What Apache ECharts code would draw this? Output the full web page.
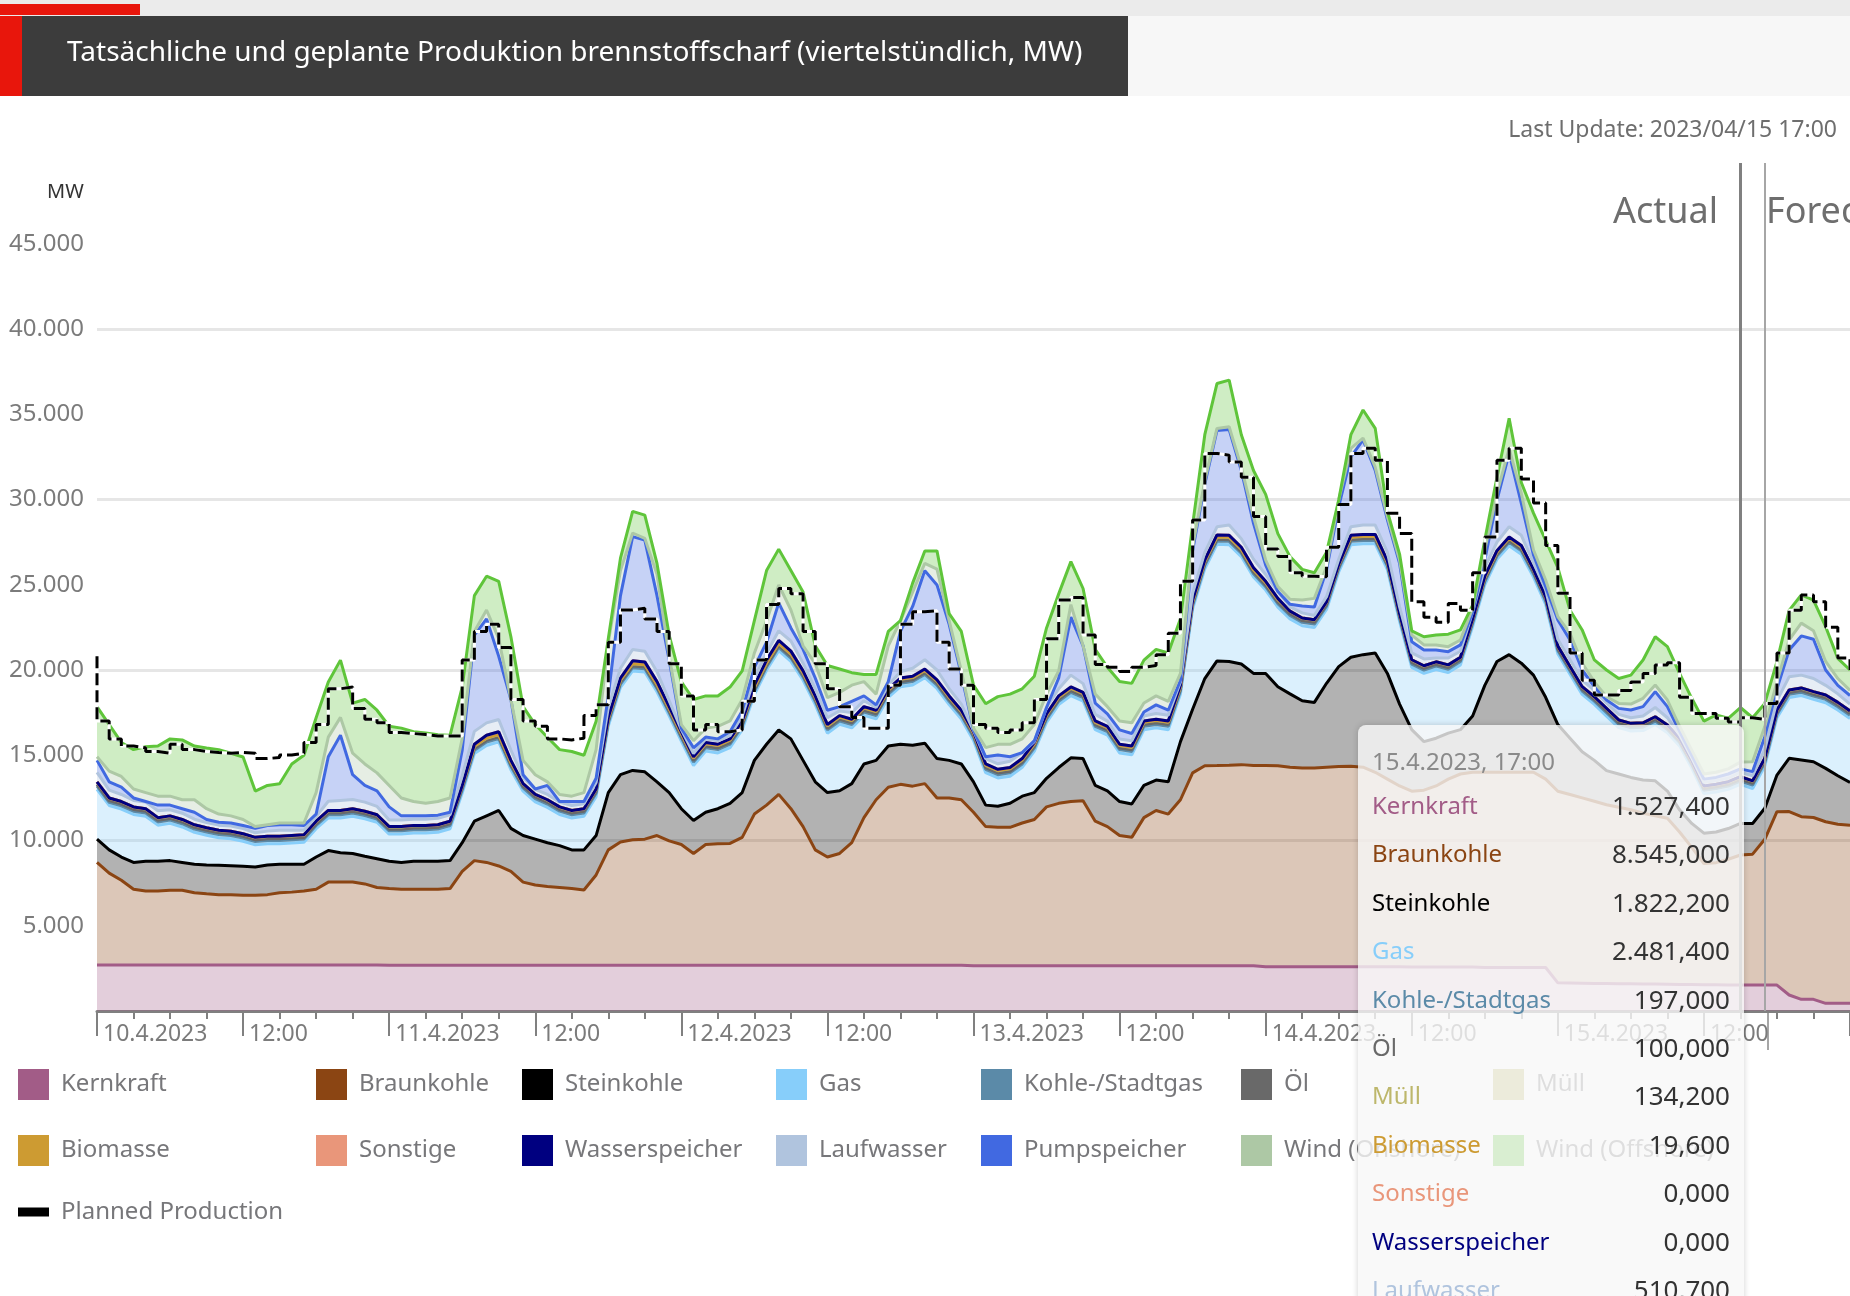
<!DOCTYPE html>
<html>
<head>
<meta charset="utf-8">
<title>Produktion brennstoffscharf</title>
<script src="https://cdn.jsdelivr.net/npm/echarts@6/dist/echarts.min.js"></script>
<style>
  html, body { margin: 0; padding: 0; background: #fff; overflow: hidden; }
  #main { width: 1850px; height: 1296px; }
</style>
</head>
<body>
<div id="main"></div>
<script>
const FONT = '"Noto Sans", sans-serif'

// hourly readings, index = hours since 10.4.2023 00:00. "Top" arrays are the stacked level of the line in the picture
const kernkraft = [
  2700,2700,2700,2700,2700,2700,2700,2700,2700,2700,2700,2700,2700,2700,2700,2700,2700,2700,2700,2700,2700,2700,2700,2700,
  2690,2690,2690,2690,2690,2690,2690,2690,2690,2690,2690,2690,2690,2690,2690,2690,2690,2690,2690,2690,2690,2690,2690,2690,
  2680,2680,2680,2680,2680,2680,2680,2680,2680,2680,2680,2680,2680,2680,2680,2680,2680,2680,2680,2680,2680,2680,2680,2680,
  2650,2650,2650,2650,2650,2650,2650,2650,2650,2650,2650,2650,2650,2650,2650,2650,2650,2650,2650,2650,2650,2650,2650,2650,
  2600,2600,2600,2600,2600,2600,2600,2600,2600,2600,2600,2600,2580,2580,2580,2580,2580,2580,2550,2550,2550,2550,2550,2550,
  1650,1640,1630,1620,1610,1600,1600,1590,1580,1570,1560,1550,1540,1540,1530,1530,1530,1527,1520,940,684,684,450,450,450]
const braunkohleTop = [
  8715,8085,7665,7140,7035,7035,7077,7077,6930,6870,6825,6825,6783,6783,6825,6930,6972,7035,7140,7560,7560,7560,7455,7245,
  7182,7140,7140,7140,7140,7180,8190,8820,8715,8505,8190,7560,7392,7308,7245,7182,7098,7980,9450,9912,10038,10080,10290,9975,
  9765,9240,9765,9807,9828,10185,11550,12075,12705,11865,10815,9450,9030,9240,9870,11340,12390,13125,13293,13188,13335,12495,12495,12390,
  11655,10815,10773,10773,11025,11235,11970,12180,12285,12327,11130,10815,10290,10185,11340,11760,11550,12390,13965,14385,14400,14420,14450,14400,
  14400,14380,14300,14250,14250,14300,14340,14350,14300,14000,13600,13200,12890,12950,13200,13600,13900,14000,14000,14000,14000,14000,14000,13600,
  12890,12700,12500,12300,12100,11950,11800,11600,11450,11300,10500,9600,8650,8700,8900,9150,9200,10072,11690,11700,11400,11350,11100,10950,10900]
const steinkohleTop = [
  10080,9450,9030,8715,8778,8778,8820,8715,8610,8568,8547,8526,8484,8442,8568,8610,8610,8610,9030,9408,9282,9240,9072,8925,
  8778,8715,8778,8778,8778,8820,9870,11130,11445,11760,10710,10290,10080,9870,9700,9450,9450,10290,12810,13860,14112,14028,13440,12810,
  11865,11172,11655,11865,12180,12810,14700,15645,16485,15960,14700,13440,12810,12915,13335,14490,14700,15540,15645,15582,15708,14805,14700,14490,
  13440,12075,12012,12180,12600,12810,13650,14280,14847,14805,13230,12915,12285,12138,13230,13545,13440,15800,17700,19500,20530,20500,20350,19800,
  19800,19020,18600,18200,18100,19220,20200,20750,20900,21000,19800,18000,16500,15800,16000,16300,16500,17300,19100,20500,20900,20400,19700,18400,
  16800,16000,15200,14700,14100,13900,13700,13550,13500,12900,11800,11000,10430,10500,10700,11000,11000,11894,13840,14820,14720,14620,14230,13800,13400]
const kohlegas = [
  190,190,190,190,190,190,190,190,190,190,190,190,190,190,190,190,190,190,190,190,190,190,190,190,
  190,190,190,190,190,190,195,195,195,195,195,195,195,195,195,195,195,195,195,195,195,195,195,195,
  195,195,195,195,195,195,195,195,195,195,195,195,195,195,195,195,195,195,195,195,195,195,195,195,
  195,195,195,195,195,195,195,195,195,195,195,195,195,195,195,195,195,195,195,195,195,195,195,195,
  197,197,197,197,197,197,197,197,197,197,197,197,197,197,197,197,197,197,197,197,197,197,197,197,
  197,197,197,197,197,197,197,197,197,197,197,197,197,197,197,197,197,197,197,197,197,197,197,197,197]
const oel = [
  100,100,100,100,100,100,100,100,100,100,100,100,100,100,100,100,100,100,100,100,100,100,100,100,
  100,100,100,100,100,100,100,100,100,100,100,100,100,100,100,100,100,100,100,100,100,100,100,100,
  100,100,100,100,100,100,100,100,100,100,100,100,100,100,100,100,100,100,100,100,100,100,100,100,
  100,100,100,100,100,100,100,100,100,100,100,100,100,100,100,100,100,100,100,100,100,100,100,100,
  100,100,100,100,100,100,100,100,100,100,100,100,100,100,100,100,100,100,100,100,100,100,100,100,
  100,100,100,100,100,100,100,100,100,100,100,100,100,100,100,100,100,100,100,100,100,100,100,100,100]
const muell = [
  130,130,130,130,130,130,130,130,130,130,130,130,130,130,130,130,130,130,130,130,130,130,130,130,
  130,130,130,130,130,130,130,130,130,130,130,130,130,130,130,130,130,130,130,130,130,130,130,130,
  134,134,134,134,134,134,134,134,134,134,134,134,134,134,134,134,134,134,134,134,134,134,134,134,
  134,134,134,134,134,134,134,134,134,134,134,134,134,134,134,134,134,134,134,134,134,134,134,134,
  134,134,134,134,134,134,134,134,134,134,134,134,134,134,134,134,134,134,134,134,134,134,134,134,
  134,134,134,134,134,134,134,134,134,134,134,134,134,134,134,134,134,134,134,134,134,134,134,134,134]
const biomasse = [
  20,20,20,20,20,20,20,20,20,20,20,20,20,20,20,20,20,20,20,20,20,20,20,20,
  20,20,20,20,20,20,20,20,20,20,20,20,20,20,20,20,20,20,20,20,20,20,20,20,
  20,20,20,20,20,20,20,20,20,20,20,20,20,20,20,20,20,20,20,20,20,20,20,20,
  20,20,20,20,20,20,20,20,20,20,20,20,20,20,20,20,20,20,20,20,20,20,20,20,
  20,20,20,20,20,20,20,20,20,20,20,20,20,20,20,20,20,20,20,20,20,20,20,20,
  20,20,20,20,20,20,20,20,20,20,20,20,20,20,20,20,20,19.6,20,20,20,20,20,20,20]
const sonstige = [
  0,0,0,0,0,0,0,0,0,0,0,0,0,0,0,0,0,0,0,0,0,0,0,0,
  0,0,0,0,0,0,0,100,150,150,100,0,0,0,0,0,0,0,60,100,150,150,150,100,
  100,60,60,60,60,60,100,150,150,150,100,60,60,60,60,60,60,60,60,60,60,60,60,60,
  60,60,60,60,60,60,60,60,60,60,60,60,60,60,60,60,60,60,60,60,100,100,100,100,
  60,60,0,0,0,0,0,100,100,100,60,0,0,0,0,0,0,0,60,60,60,60,0,0,
  0,0,0,0,0,0,0,0,0,0,0,0,0,0,0,0,0,0,0,0,0,0,0,0,0]
const wasserspeicherTop = [
  13440,12495,12285,11970,11865,11340,11445,11235,10920,10752,10605,10542,10395,10185,10248,10248,10290,10332,11130,11760,11760,11865,11718,11508,
  10815,10815,10878,10878,10920,11130,13230,15645,16170,16380,14700,13335,12705,12390,11970,11760,11865,13020,17220,19530,20538,20475,19320,17850,
  16380,14910,15750,15645,15960,17010,19110,20580,21735,21105,19950,18480,16800,17325,17115,17850,17640,18900,19530,19635,20055,19425,18480,17640,
  16380,14490,14175,14280,14805,15750,17430,18480,19005,18690,17010,16695,15645,15540,17010,17115,17010,19100,24100,26450,27920,27900,27200,26000,
  25200,24200,23450,23050,22950,24000,26200,27900,27950,27950,26400,23300,20600,20250,20480,20300,20750,23000,25500,27000,27800,27300,25900,24300,
  21400,20200,19020,18430,17750,17070,16870,16900,17260,16770,16000,14700,13200,13300,13450,13740,13500,14825,17650,18830,18950,18730,18530,18100,17600]
const laufwasserTop = [
  14000,12950,12700,12350,12250,11750,11800,11600,11250,11050,10900,10850,10700,10450,10550,10600,10600,10600,11400,12300,12350,12400,12250,12000,
  11200,11200,11250,11250,11300,11500,13800,16400,16900,17100,15300,13700,13000,12700,12250,12050,12150,13400,17800,20100,21200,21100,19900,18200,
  16500,15100,15950,15850,16150,17300,19500,21000,22300,21700,20400,18900,17200,17600,17500,18200,17800,19100,19900,20100,20600,20000,18900,18000,
  16450,14800,14500,14650,15150,15800,17800,18900,19700,19200,17400,17000,15950,15850,17300,17450,17350,19300,24500,26900,28400,28500,27700,26500,
  25600,24600,23700,23350,23200,24300,26500,28400,28500,28500,26900,23700,21000,20650,20700,20700,21100,23400,26000,27500,28400,27900,26300,24700,
  21800,20600,19400,18800,18050,17400,17200,17300,17800,17200,16200,14850,13400,13500,13650,14000,13800,15335,18200,19600,19700,19500,19100,18600,18000]
const pumpspeicherTop = [
  14700,13440,13125,12495,12285,12075,12075,11865,11655,11235,11067,11025,10878,10710,10878,10920,10920,10878,11550,14910,16170,13860,13230,12915,
  11970,11445,11445,11445,11487,11655,15300,22050,23000,20800,18270,13860,13020,13230,12285,12285,12285,13650,18480,24360,27825,27615,24360,20580,
  16590,15435,16065,15960,16380,17600,20160,21630,23940,22470,21210,19530,17640,17850,18165,18480,17955,19320,22260,23730,25830,24990,22680,19740,
  16500,14910,15015,14910,15120,15855,17640,19530,23100,21420,18060,17430,16485,16275,17535,17955,17640,19400,27000,30900,34050,34100,31700,28600,
  26150,24600,23850,23750,23700,25860,29580,32500,33500,31700,28800,26250,21660,21170,21170,21075,21470,23130,26450,29970,32700,29770,26740,24890,
  22930,21760,20000,19020,18240,17750,17650,17850,18730,17850,16400,15000,13600,13700,13900,14200,14040,16090,18900,21170,22000,21800,20000,19100,18500]
const windOnshoreTop = [
  14910,14070,13755,13020,12810,12600,12600,12390,12390,11865,11550,11445,11235,10815,10920,11025,11025,11025,12810,16065,17220,15120,14490,13965,
  13230,12495,12285,12180,12285,12495,16000,22260,23520,21840,18270,14700,13860,13440,12700,12600,12810,15330,21630,25830,28035,27720,25620,20790,
  16800,15855,16590,16695,17010,18270,21000,22890,24990,23520,21420,20370,18375,18690,19110,19320,18585,21420,22890,24570,26250,25920,22890,19950,
  16590,15450,15640,15640,15960,16800,18585,19950,23835,21420,18585,17850,17010,16900,18060,18480,18165,19800,27230,31100,34170,34270,31900,29000,
  26450,24890,24150,24100,24200,26060,29970,33000,33600,31900,29000,26450,22050,21470,21470,21370,21760,23620,27040,30360,33000,30360,27040,25280,
  23130,22150,20400,19300,18430,18040,18000,18340,19120,18240,16700,15300,13900,14000,14200,14600,14620,16680,19300,21760,22750,22300,20500,19500,18800]
const windOffshoreTop = [
  17850,16800,15750,15330,15500,15540,15960,15900,15540,15430,15330,15120,14900,12900,13230,13330,14490,15000,17200,19300,20580,18060,18270,17640,
  16700,16590,16380,16300,16200,16170,19000,24360,25500,25200,21950,17850,16800,16060,15330,15220,15000,17000,21840,26560,29300,29085,26250,22050,
  19300,18270,18480,18480,19000,19950,22890,25830,27090,25830,24570,21420,20265,20055,19845,19740,19740,22260,22890,25095,26985,26985,23310,22260,
  19110,18018,18440,18585,18900,19635,22470,24465,26355,24780,21210,20160,19320,19215,20580,21210,21000,23000,28500,33800,36800,37000,33800,31700,
  30300,28000,26650,25900,25700,26900,29800,33800,35250,34170,29300,26800,22300,21950,22050,22100,22350,23800,27620,31300,34760,31000,29200,27600,
  26000,23500,22350,20590,20000,19500,19700,20590,21950,21370,19800,18340,17000,17360,17170,17800,17200,18040,20490,23500,24400,24100,22540,20680,20000]
// value held from that hour to the next one
const plannedStart = 20800
const plannedProduction = [
  17010,15960,15540,15435,15225,15120,15645,15330,15225,15160,15120,15160,15120,14805,14868,15015,15120,15750,16800,18900,19005,17745,17115,16905,
  16338,16275,16212,16128,16128,16128,20580,22260,22680,21315,18270,17010,16695,15960,15897,16000,17325,17955,21630,23520,23625,22995,22260,20370,
  18480,16485,16800,16380,16485,18165,20580,23835,24780,24465,22260,20370,18900,17850,17220,16590,16590,19110,22680,23415,23478,21630,20055,19110,
  16800,16590,16338,16485,16905,18270,21840,24108,24255,22050,20328,20160,19908,20160,20265,20895,22155,25200,28800,32700,32600,32200,31300,29000,
  27100,26650,25700,25500,25470,27200,29700,32700,33000,32300,29200,28000,24000,23100,22800,23900,23500,25700,27800,32300,33000,31200,29800,27300,
  24500,21000,19400,18530,18530,18800,19300,19800,20300,20430,18400,17450,17450,17170,16950,17200,17100,18040,21000,23500,24400,24000,22500,20700,20000]

const hours = kernkraft.map((v, i) => i)
const dayLabels = ['10.4.2023', '11.4.2023', '12.4.2023', '13.4.2023', '14.4.2023', '15.4.2023', '16.4.2023']
const actualEndHour = 135
const nowHour = 137

const tipTime = '15.4.2023, 17:00'
const tipNames = ['Kernkraft', 'Braunkohle', 'Steinkohle', 'Gas', 'Kohle-/Stadtgas', 'Öl', 'Müll', 'Biomasse', 'Sonstige', 'Wasserspeicher', 'Laufwasser']
const tipValues = ['1.527,400', '8.545,000', '1.822,200', '2.481,400', '197,000', '100,000', '134,200', '19,600', '0,000', '0,000', '510,700']

const colors = {
  'Kernkraft': '#a25c87',
  'Braunkohle': '#8b4513',
  'Steinkohle': '#000000',
  'Gas': '#87cefa',
  'Kohle-/Stadtgas': '#5b8aa8',
  'Öl': '#696969',
  'Müll': '#bdb76b',
  'Biomasse': '#cd9b32',
  'Sonstige': '#e9967a',
  'Wasserspeicher': '#000080',
  'Laufwasser': '#b0c4de',
  'Pumpspeicher': '#4169e1',
  'Wind (Onshore)': '#adc8a5',
  'Wind (Offshore)': '#5fc53a'
}

// the stack needs band widths, the picture gives levels
let floor = hours.map(() => 0)
function band(top) {
  const out = hours.map(i => Math.max(0, top[i] - floor[i]))
  floor = hours.map(i => Math.max(floor[i], top[i]))
  return out
}
const gasTop = hours.map(i => wasserspeicherTop[i] - kohlegas[i] - oel[i] - muell[i] - biomasse[i] - sonstige[i])

const bands = [
  ['Kernkraft', band(kernkraft)],
  ['Braunkohle', band(braunkohleTop)],
  ['Steinkohle', band(steinkohleTop)],
  ['Gas', band(gasTop)],
  ['Kohle-/Stadtgas', kohlegas],
  ['Öl', oel],
  ['Müll', muell],
  ['Biomasse', biomasse],
  ['Sonstige', sonstige],
  ['Wasserspeicher', hours.map(() => 0)]
]
floor = wasserspeicherTop.slice()
bands.push(['Laufwasser', band(laufwasserTop)])
bands.push(['Pumpspeicher', band(pumpspeicherTop)])
bands.push(['Wind (Onshore)', band(windOnshoreTop)])
bands.push(['Wind (Offshore)', band(windOffshoreTop)])

// value goes first in each row: echarts stacks the first numeric dimension
const series = bands.map(([name, values]) => ({
  name: name,
  type: 'line',
  stack: 'production',
  symbol: 'none',
  color: colors[name],
  encode: { x: 1, y: 0 },
  lineStyle: { width: 3, color: colors[name] },
  areaStyle: { color: colors[name], opacity: 0.3 },
  emphasis: { disabled: true },
  data: values.map((v, i) => [v, hours[i]])
}))

const plannedData = [[0, plannedStart]].concat(plannedProduction.map((v, i) => [hours[i], v]))
series.push({
  name: 'Planned halo',
  type: 'line',
  symbol: 'none',
  step: 'end',
  lineStyle: { width: 3, color: '#ffffff' },
  emphasis: { disabled: true },
  data: plannedData
})
series.push({
  name: 'Planned Production',
  type: 'line',
  symbol: 'none',
  step: 'end',
  color: '#000000',
  lineStyle: { width: 3, color: '#000000', type: [12, 5] },
  emphasis: { disabled: true },
  data: plannedData,
  markLine: {
    silent: true,
    symbol: 'none',
    label: { show: false },
    lineStyle: { color: '#808080', width: 3, type: 'solid' },
    data: [{ xAxis: actualEndHour }]
  }
})

function legendColumn(left, top, names) {
  return {
    orient: 'vertical',
    left: left,
    top: top,
    padding: 0,
    itemWidth: 31,
    itemHeight: 31,
    itemGap: 35,
    icon: 'rect',
    selectedMode: false,
    itemStyle: { borderWidth: 0 },
    textStyle: { color: '#77777a', fontSize: 24, fontFamily: FONT, padding: [0, 0, 0, 7] },
    data: names
  }
}

const legends = [
  legendColumn(18, 1069, ['Kernkraft', 'Biomasse']),
  legendColumn(316, 1069, ['Braunkohle', 'Sonstige']),
  legendColumn(522, 1069, ['Steinkohle', 'Wasserspeicher']),
  legendColumn(776, 1069, ['Gas', 'Laufwasser']),
  legendColumn(981, 1069, ['Kohle-/Stadtgas', 'Pumpspeicher']),
  legendColumn(1241, 1069, ['Öl', 'Wind (Onshore)']),
  legendColumn(1493, 1069, ['Müll', 'Wind (Offshore)'])
]
legends.push(Object.assign(legendColumn(18, 1200, ['Planned Production']), { itemHeight: 9 }))

function tipHtml() {
  let html = '<div style="color:#8a8a8a;height:44px;line-height:48px;">' + tipTime + '</div>'
  tipNames.forEach((name, i) => {
    html += '<div style="display:flex;justify-content:space-between;height:48.4px;line-height:48.4px;">' +
      '<span style="color:' + colors[name] + '">' + name + '</span>' +
      '<span style="color:#333;font-size:26px">' + tipValues[i] + '</span></div>'
  })
  return html
}

const option = {
  animation: false,
  backgroundColor: '#ffffff',
  title: {
    text: 'Tatsächliche und geplante Produktion brennstoffscharf (viertelstündlich, MW)',
    left: 67,
    top: 39,
    padding: 0,
    textStyle: { color: '#ffffff', fontSize: 28, fontWeight: 'normal', fontFamily: FONT }
  },
  legend: legends,
  grid: { left: 97, top: 163, width: 1756, height: 848 },
  tooltip: {
    trigger: 'axis',
    triggerOn: 'none',
    alwaysShowContent: true,
    transitionDuration: 0,
    padding: 0,
    borderWidth: 0,
    backgroundColor: 'rgba(247,247,247,0.8)',
    position: [1358, 725],
    axisPointer: { type: 'line', snap: false, lineStyle: { color: '#a6a6a6', width: 2, type: 'solid' } },
    extraCssText: 'width:386px;height:640px;box-sizing:border-box;padding:12px 14px 0 14px;border-radius:8px;box-shadow:0 0 6px rgba(0,0,0,0.18);overflow:hidden;font-size:24px;font-family:' + FONT.replace(/"/g, "'") + ';',
    formatter: tipHtml
  },
  xAxis: {
    type: 'value',
    min: 0,
    max: 144,
    interval: 12,
    splitLine: { show: false },
    axisLine: { lineStyle: { color: '#808080', width: 3 } },
    axisTick: { show: true, length: 25, lineStyle: { color: '#808080', width: 2 } },
    minorTick: { show: true, splitNumber: 4, length: 8, lineStyle: { color: '#808080', width: 2 } },
    axisLabel: {
      showMaxLabel: false,
      align: 'left',
      margin: 12,
      padding: [0, 0, 0, 6],
      color: '#7b7b7b',
      fontSize: 23,
      fontFamily: FONT,
      formatter: v => (v % 24 === 0 ? dayLabels[v / 24] : '12:00')
    }
  },
  yAxis: [
    {
      type: 'value',
      min: 0,
      max: 49736,
      interval: 5000,
      axisLine: { show: false },
      axisTick: { show: false },
      splitLine: { show: false },
      axisLabel: {
        showMinLabel: false,
        showMaxLabel: false,
        margin: 13,
        padding: [24, 0, 0, 0],
        color: '#7b7b7b',
        fontSize: 24,
        fontFamily: FONT,
        formatter: v => String(v).replace(/(\d)(\d{3})$/, '$1.$2')
      }
    },
    {
      // only the 10.000 grid lines are drawn in the reference
      type: 'value',
      min: 0,
      max: 49736,
      interval: 10000,
      axisLine: { show: false },
      axisTick: { show: false },
      axisLabel: { show: false },
      splitLine: { show: true, showMinLine: false, showMaxLine: false, lineStyle: { color: '#e6e6e6', width: 3 } }
    }
  ],
  graphic: [
    { type: 'rect', silent: true, shape: { x: 0, y: 0, width: 1850, height: 16 }, style: { fill: '#ebebeb' } },
    { type: 'rect', silent: true, shape: { x: 0, y: 4, width: 140, height: 11 }, style: { fill: '#e8160c' } },
    { type: 'rect', silent: true, shape: { x: 0, y: 16, width: 1850, height: 80 }, style: { fill: '#f7f7f7' } },
    { type: 'rect', silent: true, shape: { x: 0, y: 16, width: 1128, height: 80 }, style: { fill: '#3c3c3c' } },
    { type: 'rect', silent: true, shape: { x: 0, y: 16, width: 22, height: 80 }, style: { fill: '#e8160c' } },
    { type: 'text', silent: true, x: 1837, y: 130, style: { text: 'Last Update: 2023/04/15 17:00', fill: '#6e6e6e', fontSize: 23, fontFamily: FONT, align: 'right', verticalAlign: 'middle' } },
    { type: 'text', silent: true, x: 47, y: 192, style: { text: 'MW', fill: '#333333', fontSize: 20, fontFamily: FONT, verticalAlign: 'middle' } },
    { type: 'text', silent: true, x: 1718, y: 213, style: { text: 'Actual', fill: '#6e6e6e', fontSize: 36, fontFamily: FONT, align: 'right', verticalAlign: 'middle' } },
    { type: 'text', silent: true, x: 1766, y: 213, style: { text: 'Forecast', fill: '#6e6e6e', fontSize: 36, fontFamily: FONT, verticalAlign: 'middle' } },
    { type: 'line', silent: true, shape: { x1: 1768, y1: 1011, x2: 1768, y2: 1050 }, style: { stroke: '#a6a6a6', lineWidth: 2 } }
  ],
  series: series
}
const chart = echarts.init(document.getElementById('main'))
chart.setOption(option)
chart.dispatchAction({ type: 'showTip', seriesIndex: 0, dataIndex: nowHour })
</script>
</body>
</html>
